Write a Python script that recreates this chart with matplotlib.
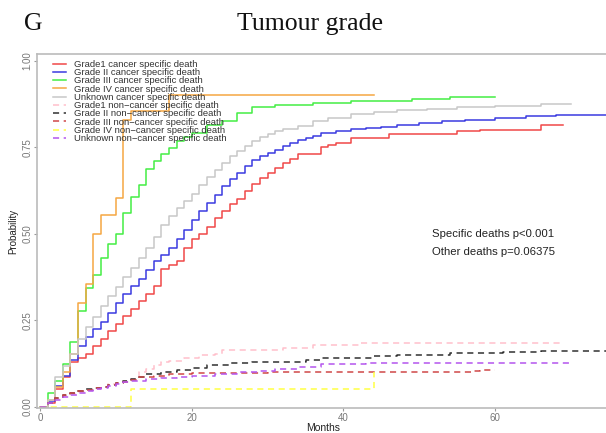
import matplotlib
matplotlib.use('Agg')
import matplotlib.pyplot as plt

plt.rcParams['font.family'] = ['Liberation Sans', 'DejaVu Sans']

# cumulative incidence, months -> probability (step functions)
g1_t = [0, 1, 2, 3, 4, 5, 6, 7, 8, 9, 10, 11, 12, 13, 14, 15, 16, 17, 18, 19, 20,
        21, 22, 23, 24, 25, 26, 27, 28, 29, 30, 31, 32, 33, 34, 37, 38, 39, 41, 46,
        55, 58, 66, 69]
g1_p = [0, 0.01, 0.05, 0.085, 0.128, 0.14, 0.152, 0.176, 0.195, 0.219, 0.238, 0.261,
        0.282, 0.306, 0.325, 0.349, 0.397, 0.411, 0.421, 0.46, 0.484,
        0.50, 0.52, 0.545, 0.565, 0.585, 0.60, 0.625, 0.645, 0.66, 0.675, 0.69, 0.705,
        0.715, 0.732, 0.751, 0.758, 0.764, 0.777, 0.789, 0.796, 0.801, 0.815, 0.815]

g2_t = [0, 1, 2, 3, 4, 5, 6, 7, 8, 9, 10, 11, 12, 13, 14, 15, 16, 17, 18, 19, 20,
        21, 22, 23, 24, 25, 26, 27, 28, 29, 30, 31, 32, 33, 34, 35, 36, 37, 39, 41,
        43, 45, 47, 50, 53, 56, 60, 64, 68, 80]
g2_p = [0, 0.015, 0.06, 0.09, 0.135, 0.175, 0.20, 0.225, 0.245, 0.27, 0.30, 0.325,
        0.35, 0.37, 0.395, 0.42, 0.44, 0.46, 0.484, 0.51, 0.54,
        0.565, 0.59, 0.613, 0.637, 0.657, 0.676, 0.695, 0.714, 0.725, 0.735, 0.743,
        0.753, 0.763, 0.77, 0.777, 0.784, 0.791, 0.797, 0.803,
        0.807, 0.81, 0.815, 0.82, 0.825, 0.83, 0.835, 0.84, 0.844, 0.844]

g3_t = [0, 1, 2, 3, 4, 5, 6, 7, 8, 9, 10, 11, 12, 13, 14, 15, 16, 17, 18, 19, 20,
        22, 24, 26, 28, 31, 36, 41, 49, 54, 60]
g3_p = [0, 0.04, 0.075, 0.123, 0.186, 0.277, 0.344, 0.38, 0.43, 0.47, 0.50, 0.56,
        0.605, 0.64, 0.686, 0.71, 0.73, 0.748, 0.767, 0.78, 0.792,
        0.815, 0.825, 0.849, 0.868, 0.873, 0.878, 0.883, 0.89, 0.897, 0.897]

g4_t = [0, 1, 2, 3, 4, 5, 6, 7, 8, 10, 11, 12, 17, 44]
g4_p = [0, 0.02, 0.056, 0.10, 0.152, 0.30, 0.354, 0.50, 0.553, 0.604, 0.83, 0.855,
        0.90, 0.90]

unk_t = [0, 1, 2, 3, 4, 5, 6, 7, 8, 9, 10, 11, 12, 13, 14, 15, 16, 17, 18, 19, 20,
         21, 22, 23, 24, 25, 26, 27, 28, 29, 30, 31, 32, 34, 36, 38, 41, 44, 47, 51,
         55, 60, 66, 70]
unk_p = [0, 0.02, 0.085, 0.118, 0.152, 0.195, 0.23, 0.26, 0.29, 0.32, 0.345, 0.375,
         0.40, 0.43, 0.46, 0.49, 0.525, 0.55, 0.575, 0.595, 0.615,
         0.64, 0.665, 0.685, 0.705, 0.725, 0.74, 0.755, 0.768, 0.78, 0.79, 0.797,
         0.803, 0.812, 0.825, 0.835, 0.845, 0.852, 0.858, 0.862,
         0.866, 0.87, 0.876, 0.876]

# non-cancer specific death
o1_t = [0, 1, 2, 3, 4, 5, 6, 7, 8, 9, 10, 11, 12, 13, 14, 15, 16, 17, 19, 21, 23,
        24, 30, 32, 36, 42, 69]
o1_p = [0, 0.01, 0.022, 0.032, 0.037, 0.042, 0.047, 0.052, 0.058, 0.064, 0.069,
        0.074, 0.079, 0.10, 0.11, 0.12, 0.128, 0.133, 0.142, 0.148, 0.152,
        0.164, 0.165, 0.17, 0.178, 0.184, 0.184]

o2_t = [0, 1, 2, 3, 4, 5, 6, 7, 8, 9, 10, 11, 12, 13, 14, 16, 18, 20, 22, 25, 28,
        32, 35, 37, 44, 47, 54, 61, 66, 80]
o2_p = [0, 0.01, 0.025, 0.035, 0.04, 0.045, 0.05, 0.054, 0.058, 0.063, 0.068,
        0.073, 0.079, 0.087, 0.093, 0.10, 0.107, 0.113, 0.12, 0.125, 0.128,
        0.13, 0.134, 0.14, 0.145, 0.15, 0.155, 0.159, 0.161, 0.161]

o3_t = [0, 1, 2, 3, 4, 5, 6, 7, 8, 9, 10, 11, 12, 13, 15, 17, 20, 30, 55, 57, 58, 60]
o3_p = [0, 0.01, 0.024, 0.034, 0.039, 0.044, 0.049, 0.053, 0.057, 0.062, 0.067,
        0.072, 0.077, 0.085, 0.09, 0.095, 0.098, 0.099, 0.10, 0.103, 0.106, 0.106]

o4_t = [0, 12, 44]
o4_p = [0, 0.05, 0.10]

ou_t = [0, 1, 2, 3, 4, 5, 6, 7, 8, 9, 10, 11, 12, 14, 16, 18, 20, 23, 26, 29, 31,
        34, 37, 43, 70]
ou_p = [0, 0.01, 0.02, 0.028, 0.033, 0.04, 0.045, 0.05, 0.055, 0.06, 0.065, 0.07,
        0.075, 0.08, 0.083, 0.087, 0.09, 0.095, 0.10, 0.103, 0.11,
        0.115, 0.122, 0.125, 0.125]

labels = ['Grade1 cancer specific death', 'Grade II cancer specific death',
          'Grade III cancer specific death', 'Grade IV cancer specific death',
          'Unknown cancer specific death', 'Grade1 non\u2212cancer specific death',
          'Grade II non\u2212cancer specific death', 'Grade III non\u2212cancer specific death',
          'Grade IV non\u2212cancer specific death', 'Unknown non\u2212cancer specific death']

series = [(g1_t, g1_p), (g2_t, g2_p), (g3_t, g3_p), (g4_t, g4_p), (unk_t, unk_p),
          (o1_t, o1_p), (o2_t, o2_p), (o3_t, o3_p), (o4_t, o4_p), (ou_t, ou_p)]
colors = ['#f04848', '#3a3ae0', '#44ee44', '#f5a742', '#c8c8c8',
          '#ffc0cb', '#303030', '#d04848', '#ffff44', '#b455ee']
styles = ['-'] * 5 + [(0, (4, 3))] * 5

fig = plt.figure(figsize=(6.06, 4.33), dpi=100)
ax = fig.add_axes([37 / 606, 1 - 408 / 433, 572 / 606, 354 / 433])

for (t, p), c, ls, lab in zip(series, colors, styles, labels):
    ax.step(t, p, where='post', color=c, linestyle=ls, linewidth=1.1, label=lab)

ax.set_xlim(-0.4, 75.0)
ax.set_ylim(-0.004, 1.02)
ax.set_xticks([0, 20, 40, 60])
ax.set_yticks([0, 0.25, 0.5, 0.75, 1.0])
ax.set_yticklabels(['0.00', '0.25', '0.50', '0.75', '1.00'], rotation=90, va='center')
ax.tick_params(colors='#999999', labelcolor='#777777', labelsize=7, length=2.5, width=0.8, pad=1)
for s in ax.spines.values():
    s.set_color('#bbbbbb')
    s.set_linewidth(1.2)

ax.set_xlabel('Months', fontsize=7.5, color='#222222', labelpad=0)
ax.set_ylabel('Probability', fontsize=7, color='#222222', labelpad=3)

leg = ax.legend(loc='upper left', bbox_to_anchor=(53 / 606, 1 - 60 / 433),
                bbox_transform=fig.transFigure, frameon=False, fontsize=6.8,
                labelspacing=-0.08, handlelength=1.4, handletextpad=0.8, borderpad=0,
                borderaxespad=0)
for txt in leg.get_texts():
    txt.set_color('#333333')

fig.text(432 / 606, 1 - 234 / 433, 'Specific deaths p<0.001', fontsize=8.2,
         color='#222222', va='center')
fig.text(432 / 606, 1 - 252 / 433, 'Other deaths p=0.06375', fontsize=8.2,
         color='#222222', va='center')
fig.text(310 / 606, 1 - 24 / 433, 'Tumour grade', fontsize=18.5, family='Liberation Serif',
         ha='center', va='center', color='#111111')
fig.text(24 / 606, 1 - 24 / 433, 'G', fontsize=18.5, family='Liberation Serif',
         ha='left', va='center', color='#111111')

fig.savefig('out.png', dpi=100)
